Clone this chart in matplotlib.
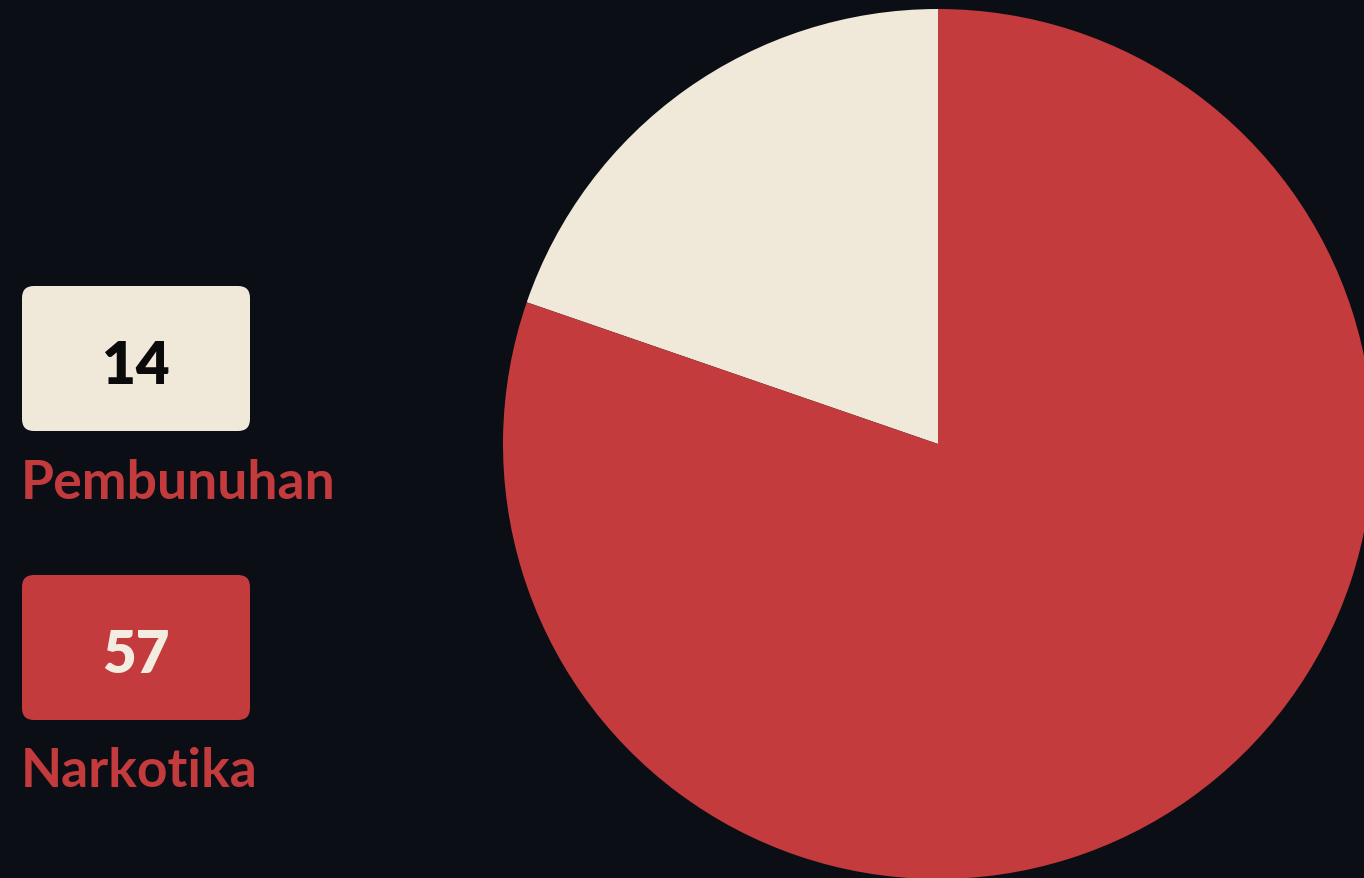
import matplotlib
matplotlib.use("Agg")
import matplotlib.pyplot as plt
from matplotlib.patches import FancyBboxPatch

categories = ["Pembunuhan", "Narkotika"]
values = [14, 57]
colors = ["#f0e9d9", "#c33b3c"]
number_colors = ["#0a0a0a", "#f3ece0"]

bg = "#0b0e15"

fig = plt.figure(figsize=(13.64, 8.79), dpi=100)
fig.patch.set_facecolor(bg)

W, H = 1364, 879

# legend / labels layer in pixel coordinates
lax = fig.add_axes([0, 0, 1, 1])
lax.set_xlim(0, W)
lax.set_ylim(H, 0)
lax.axis("off")

box_tops = [287, 576]
label_y = [484, 772]
for i, (cat, val) in enumerate(zip(categories, values)):
    top = box_tops[i]
    lax.add_patch(FancyBboxPatch((22 + 12, top + 12), 228 - 24, 145 - 24,
                                 boxstyle="round,pad=12", fc=colors[i], ec="none"))
    lax.text(136, top + 80, str(val), ha="center", va="center",
             fontsize=42, fontweight="heavy", color=number_colors[i],
             family="Lato")
    lax.text(21, label_y[i], cat, ha="left", va="center",
             fontsize=38.5, fontweight="bold", color=colors[1],
             family="Lato")

# pie: centre (938, 445) px, radius 435 px
cx, cy, r = 938, 445, 435
pax = fig.add_axes([(cx - r) / W, (H - cy - r) / H, 2 * r / W, 2 * r / H])
pax.pie(values, colors=colors, startangle=90, counterclock=True,
        radius=1, wedgeprops=dict(linewidth=0))
pax.set_xlim(-1, 1)
pax.set_ylim(-1, 1)
pax.set_aspect("auto")
pax.axis("off")

fig.savefig("out.png", dpi=100, facecolor=bg)
